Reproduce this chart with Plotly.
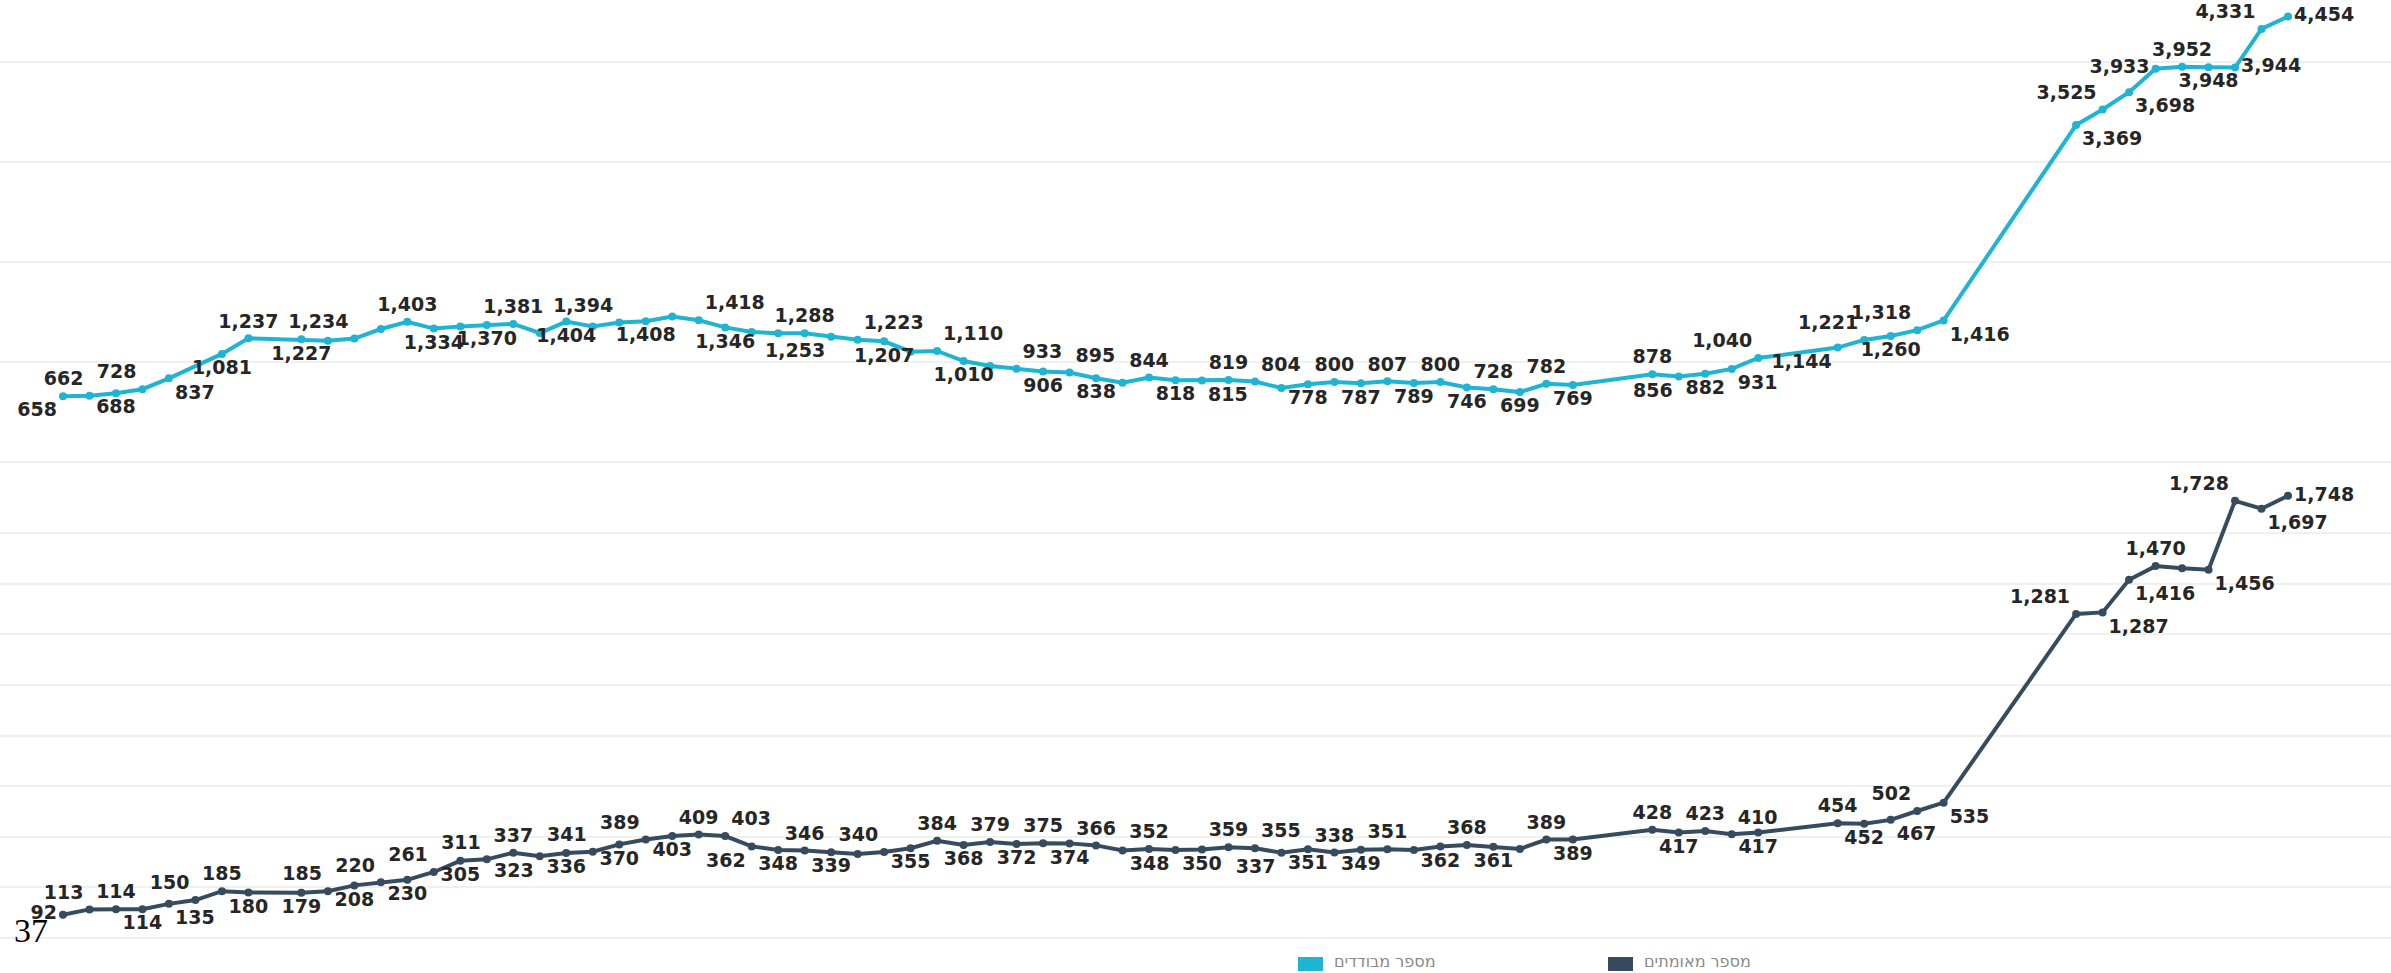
import plotly.graph_objects as go

# ---------------- data ----------------
top_days = [0, 1, 2, 3, 4, 6, 7, 9, 10, 11, 12, 13, 14, 15, 16, 17, 18, 19, 20, 21, 22, 23, 24, 25,
            26, 27, 28, 29, 30, 31, 32, 33, 34, 35, 36, 37, 38, 39, 40, 41, 42, 43, 44, 45, 46, 47,
            48, 49, 50, 51, 52, 53, 54, 55, 56, 57, 60, 61, 62, 63, 64, 67, 68, 69, 70, 71,
            76, 77, 78, 79, 80, 81, 82, 83, 84]
isolated = [658, 662, 688, 728, 837, 1081, 1237, 1227, 1212, 1234, 1330, 1403, 1334, 1355, 1370,
            1381, 1290, 1404, 1355, 1394, 1408, 1455, 1418, 1346, 1300, 1287, 1288, 1253, 1223,
            1207, 1103, 1110, 1010, 960, 933, 906, 895, 838, 793, 844, 818, 815, 819, 804, 740,
            778, 800, 787, 807, 789, 800, 746, 728, 699, 782, 769, 878, 856, 882, 931, 1040,
            1144, 1221, 1260, 1318, 1416, 3369, 3525, 3698, 3933, 3952, 3948, 3944, 4331, 4454]
isolated_lbl = ["BL", "TL", "B", "TL", "BR", "B", "T", "B", "", "TL", "", "T", "B", "", "B", "T",
                "", "B", "", "TL", "B", "", "TR", "B", "", "", "T", "BL", "TR", "B", "", "TR",
                "B", "", "TR", "B", "TR", "B", "", "T", "B", "BR", "T", "TR", "", "B", "T", "B",
                "T", "B", "T", "B", "T", "B", "T", "B", "T", "BL", "B", "BR", "TL", "BL", "TL",
                "B", "TL", "BR", "BR", "TL", "BR", "ML", "T", "B", "MR", "TL", "MR"]

bot_days = [0, 1, 2, 3, 4, 5, 6, 7, 9, 10, 11, 12, 13, 14, 15, 16, 17, 18, 19, 20, 21, 22, 23, 24,
            25, 26, 27, 28, 29, 30, 31, 32, 33, 34, 35, 36, 37, 38, 39, 40, 41, 42, 43, 44, 45,
            46, 47, 48, 49, 50, 51, 52, 53, 54, 55, 56, 57, 60, 61, 62, 63, 64, 67, 68, 69, 70,
            71, 76, 77, 78, 79, 80, 81, 82, 83, 84]
confirmed = [92, 113, 114, 114, 135, 150, 185, 180, 179, 185, 208, 220, 230, 261, 305, 311, 337,
             323, 336, 341, 370, 389, 403, 409, 403, 362, 348, 346, 339, 332, 340, 355, 384, 368,
             379, 372, 375, 374, 366, 346, 352, 348, 350, 359, 355, 337, 351, 338, 349, 351, 348,
             362, 368, 361, 352, 389, 389, 428, 417, 423, 410, 417, 454, 452, 467, 502, 535,
             1281, 1287, 1416, 1470, 1462, 1456, 1728, 1697, 1748]
confirmed_lbl = ["ML", "TL", "T", "B", "BR", "TL", "T", "B", "B", "TL", "B", "TL", "B", "TL", "B",
                 "TL", "T", "BL", "B", "TL", "B", "TL", "B", "T", "TR", "BL", "B", "T", "B", "",
                 "TL", "B", "T", "B", "T", "B", "T", "B", "T", "", "T", "BL", "B", "T", "TR",
                 "BL", "B", "T", "B", "T", "", "B", "T", "B", "", "T", "B", "T", "B", "T", "TR",
                 "B", "T", "B", "BR", "TL", "BR", "TL", "BR", "BR", "T", "", "BR", "TL", "BR", "MR"]

series_names = ["מספר מבודדים", "מספר מאומתים"]
page_number = "37"

# ---------------- style ----------------
W, H = 2391, 973
TEAL = "#1fb4d1"
DARK = "#364b5e"
GRID = "#f0f0f0"
LABEL_FONT = dict(family="DejaVu Sans", size=19, color="#262626", weight="bold")
POS = {"T": "top center", "B": "bottom center", "TL": "top left", "TR": "top right",
       "BL": "bottom left", "BR": "bottom right", "ML": "middle left", "MR": "middle right",
       "": "top center"}

x0_px, x_step = 63.0, (2288.0 - 63.0) / 84.0
x_range = [-x0_px / x_step, 84 + (W - 2288.0) / x_step]


def labels(vals, pos):
    return [f"{v:,}" if p else "" for v, p in zip(vals, pos)]


fig = go.Figure()
fig.add_trace(go.Scatter(
    x=top_days, y=isolated, mode="lines+markers+text", name=series_names[0],
    line=dict(color=TEAL, width=4), marker=dict(color=TEAL, size=8),
    text=labels(isolated, isolated_lbl), textposition=[POS[p] for p in isolated_lbl],
    textfont=LABEL_FONT, cliponaxis=False, xaxis="x", yaxis="y", showlegend=False))
fig.add_trace(go.Scatter(
    x=bot_days, y=confirmed, mode="lines+markers+text", name=series_names[1],
    line=dict(color=DARK, width=4), marker=dict(color=DARK, size=8),
    text=labels(confirmed, confirmed_lbl), textposition=[POS[p] for p in confirmed_lbl],
    textfont=LABEL_FONT, cliponaxis=False, xaxis="x2", yaxis="y2", showlegend=False))

axis_common = dict(showticklabels=False, ticks="", showline=False)
fig.update_layout(
    width=W, height=H, margin=dict(l=0, r=0, t=0, b=0),
    paper_bgcolor="white", plot_bgcolor="white",
    xaxis=dict(range=x_range, showgrid=False, zeroline=False, anchor="y", **axis_common),
    xaxis2=dict(range=x_range, showgrid=False, zeroline=False, anchor="y2", matches="x",
                **axis_common),
    yaxis=dict(domain=[1 - 462 / H, 1], range=[0, 4620], dtick=1000, showgrid=True,
               gridcolor=GRID, gridwidth=1.5, zeroline=True, zerolinecolor=GRID,
               zerolinewidth=1.5, anchor="x", **axis_common),
    yaxis2=dict(domain=[(H - 938) / H, (H - 482.5) / H], range=[0, 1800.5], dtick=200,
                showgrid=True, gridcolor=GRID, gridwidth=1.5, zeroline=True,
                zerolinecolor=GRID, zerolinewidth=1.5, anchor="x2", **axis_common),
    showlegend=False,
)

# legend (drawn manually)
legend_items = [(1298, TEAL, series_names[0]), (1608, DARK, series_names[1])]
for px, col, name in legend_items:
    fig.add_shape(type="rect", xref="paper", yref="paper",
                  x0=px / W, x1=(px + 25) / W, y0=1 - 971 / H, y1=1 - 957 / H,
                  fillcolor=col, line=dict(width=0))
    fig.add_annotation(xref="paper", yref="paper", x=(px + 34) / W, y=1 - 961 / H,
                       text=name, showarrow=False, xanchor="left", yanchor="middle",
                       font=dict(family="DejaVu Sans", size=16, color="#8a8a8a"))

fig.add_annotation(xref="paper", yref="paper", x=12 / W, y=1 - 930 / H, text=page_number,
                   showarrow=False, xanchor="left", yanchor="middle",
                   font=dict(family="Liberation Serif", size=34, color="#000000"))

fig.write_html("out.html")
